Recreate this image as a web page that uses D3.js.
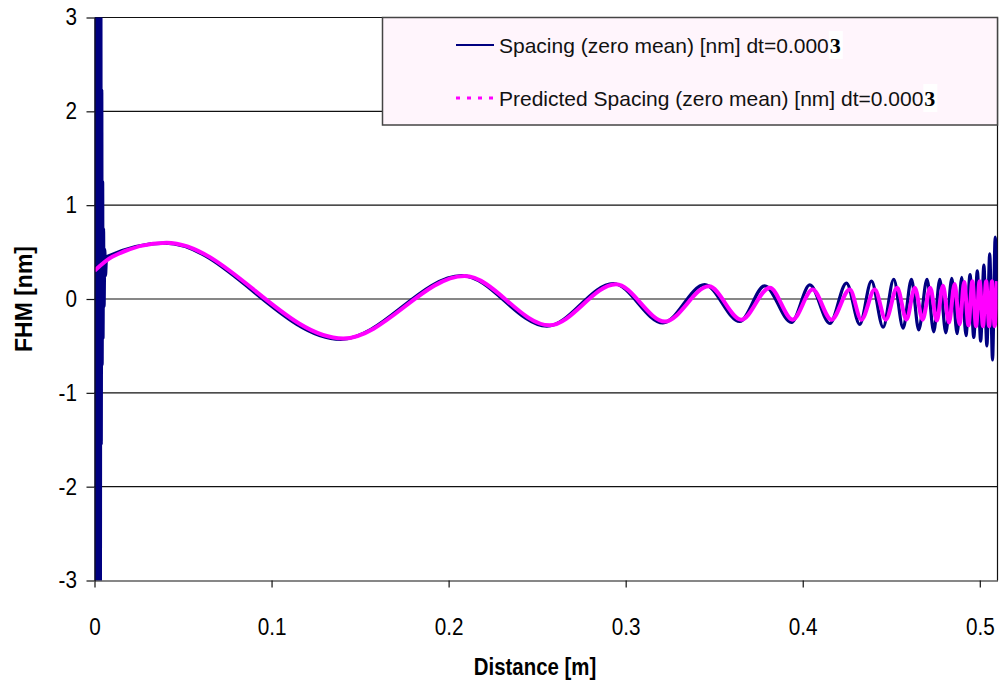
<!DOCTYPE html>
<html>
<head>
<meta charset="utf-8">
<script src="https://cdn.jsdelivr.net/npm/d3@7"></script>
<style>
  html, body { margin: 0; padding: 0; background: #fff; }
  svg { display: block; }
</style>
</head>
<body>
<svg id="chart" width="1000" height="690"></svg>
<script>
// ---------- data ----------
const xTicks = [0, 0.1, 0.2, 0.3, 0.4, 0.5];
const xTickLabels = ["0", "0.1", "0.2", "0.3", "0.4", "0.5"];
const yTicks = [-3, -2, -1, 0, 1, 2, 3];
const yTickLabels = ["-3", "-2", "-1", "0", "1", "2", "3"];

const seriesNames = ["Spacing (zero mean) [nm] dt=0.000", "Predicted Spacing (zero mean) [nm] dt=0.000"];
const seriesSuffix = "3";

// measured spacing: start-up transient, then chirped oscillation (turning points)
const spacingX = [0, 0.0003, 0.0006, 0.0009, 0.0012, 0.0015, 0.0018, 0.0021, 0.0024, 0.0027,
  0.0030, 0.0033, 0.0036, 0.0038, 0.0041, 0.0043, 0.0046, 0.0048, 0.0051, 0.0054, 0.0058, 0.0062, 0.0068,
  0.0400, 0.1390, 0.2075, 0.2555, 0.2930, 0.3210, 0.3446, 0.3644, 0.3785, 0.3936, 0.4040, 0.4153,
  0.4247, 0.4322, 0.4388, 0.4454, 0.4514, 0.4567, 0.4614, 0.4655, 0.4702, 0.4740, 0.4774, 0.4808,
  0.4842, 0.4872, 0.4898, 0.4922, 0.4945, 0.4966, 0.4986, 0.5005, 0.5023, 0.5040, 0.5056, 0.5072,
  0.5087, 0.5100];
const spacingY = [3.3, -3.3, 3.3, -3.3, 3.3, -3.3, 3.3, -3.3, 3.3, -3.3,
  3.3, -3.3, 3.3, -1.55, 2.23, -0.7, 1.25, -0.42, 0.75, -0.08, 0.53, 0.25, 0.45,
  0.595, -0.43, 0.25, -0.29, 0.165, -0.255, 0.153, -0.24, 0.14, -0.25, 0.15, -0.26,
  0.17, -0.27, 0.19, -0.30, 0.21, -0.31, 0.21, -0.33, 0.21, -0.35, 0.21, -0.36,
  0.22, -0.37, 0.23, -0.39, 0.26, -0.41, 0.30, -0.45, 0.36, -0.50, 0.48, -0.65,
  0.66, 0.0];

// predicted spacing (turning points)
const predictedX = [0, 0.0100, 0.0407, 0.1405, 0.2090, 0.2570, 0.2945, 0.3222, 0.3470, 0.3653,
  0.3814, 0.3943, 0.4056, 0.4162, 0.4266, 0.4331, 0.4407, 0.4469, 0.4533, 0.4586, 0.4633,
  0.4677, 0.4720, 0.4757, 0.4792, 0.4826, 0.4858, 0.4886, 0.4912, 0.4936, 0.4958, 0.4979,
  0.4999, 0.5018, 0.5036, 0.5053, 0.5069, 0.5084, 0.5097];
const predictedY = [0.30, 0.45, 0.60, -0.42, 0.245, -0.28, 0.158, -0.24, 0.135, -0.22,
  0.12, -0.22, 0.10, -0.22, 0.10, -0.22, 0.10, -0.22, 0.12, -0.22, 0.12,
  -0.22, 0.12, -0.23, 0.14, -0.25, 0.16, -0.27, 0.18, -0.28, 0.19, -0.29,
  0.19, -0.29, 0.19, -0.29, 0.19, -0.29, 0.19];

// ---------- chart ----------
const SANS = "'Liberation Sans', Arial, sans-serif";
const SERIF = "'Liberation Serif', 'Times New Roman', serif";
const svg = d3.select("#chart");
const x = d3.scaleLinear().domain([0, 0.51]).range([94.5, 997.5]);
const y = d3.scaleLinear().domain([-3, 3]).range([580.5, 17.5]);

// horizontal gridlines
svg.append("g").selectAll("line").data(yTicks.filter(d => d > -3)).join("line")
  .attr("x1", x(0)).attr("x2", x(0.51))
  .attr("y1", d => y(d)).attr("y2", d => y(d))
  .attr("stroke", "#111").attr("stroke-width", 1.2);

// right border
svg.append("line").attr("x1", x(0.51)).attr("x2", x(0.51))
  .attr("y1", y(3)).attr("y2", y(-3)).attr("stroke", "#111").attr("stroke-width", 1.2);

// clip
svg.append("clipPath").attr("id", "plotclip").append("rect")
  .attr("x", x(0)).attr("y", y(3)).attr("width", x(0.51) - x(0)).attr("height", y(-3) - y(3));

const line = d3.line().x(d => x(d[0])).y(d => y(d[1])).curve(d3.curveMonotoneX);
const spacing = spacingX.map((v, i) => [v, spacingY[i]]);
const predicted = predictedX.map((v, i) => [v, predictedY[i]]);

const plot = svg.append("g").attr("clip-path", "url(#plotclip)");
plot.append("path").datum(spacing).attr("d", line)
  .attr("fill", "none").attr("stroke", "#000080").attr("stroke-width", 3.2)
  .attr("stroke-linejoin", "round");
plot.append("path").datum(predicted).attr("d", line)
  .attr("fill", "none").attr("stroke", "#ff00ff").attr("stroke-width", 4);

// axes
const yAxis = svg.append("g").attr("transform", `translate(${x(0)},0)`)
  .call(d3.axisLeft(y).tickValues(yTicks).tickSize(8).tickSizeOuter(0).tickPadding(9)
    .tickFormat((d, i) => yTickLabels[i]));
const xAxis = svg.append("g").attr("transform", `translate(0,${y(-3)})`)
  .call(d3.axisBottom(x).tickValues(xTicks).tickSize(7).tickSizeOuter(0).tickPadding(31.5)
    .tickFormat((d, i) => xTickLabels[i]));
[yAxis, xAxis].forEach(a => {
  a.select(".domain").attr("stroke", "#111").attr("stroke-width", 1.2);
  a.selectAll(".tick line").attr("stroke", "#111").attr("stroke-width", 1.2);
  a.selectAll("text").attr("font-size", 23).attr("fill", "#000").style("font-family", SANS);
});
yAxis.selectAll("text").attr("x", 0).attr("transform", "translate(-17.5,0) scale(0.9,1)");
xAxis.selectAll("text").attr("transform", "scale(0.9,1)");

// axis titles
svg.append("text").attr("transform", "translate(535,675) scale(0.85,1)").attr("text-anchor", "middle")
  .style("font-family", SANS).attr("font-size", 24).attr("font-weight", "bold").text("Distance [m]");
svg.append("text").attr("transform", "translate(32,299) rotate(-90)").attr("text-anchor", "middle")
  .style("font-family", SANS).attr("font-size", 23).attr("font-weight", "bold").text("FHM [nm]");

// legend
const lg = svg.append("g");
lg.append("rect").attr("x", 382.5).attr("y", 17.5).attr("width", 615).attr("height", 107.5)
  .attr("fill", "#fff5fc").attr("stroke", "#444").attr("stroke-width", 1.5);
const items = [
  { name: seriesNames[0], cy: 45, color: "#000080", dash: null, w: 2 },
  { name: seriesNames[1], cy: 98, color: "#ff00ff", dash: "4,7", w: 3 }
];
items.forEach(it => {
  lg.append("line").attr("x1", 456).attr("x2", 494).attr("y1", it.cy).attr("y2", it.cy)
    .attr("stroke", it.color).attr("stroke-width", it.w).attr("stroke-dasharray", it.dash);
  const t = lg.append("text").attr("x", 499).attr("y", it.cy + 7.5)
    .style("font-family", SANS).attr("font-size", 21).attr("fill", "#111").text(it.name);
  const bb = t.node().getBBox();
  const sx = bb.x + bb.width;
  lg.append("rect").attr("x", sx).attr("y", it.cy - 14).attr("width", 14).attr("height", 28)
    .attr("fill", "#fff");
  lg.append("text").attr("x", sx + 1).attr("y", it.cy + 8)
    .style("font-family", SERIF).attr("font-size", 22).attr("font-weight", "bold")
    .attr("fill", "#000").text(seriesSuffix);
});
</script>
</body>
</html>
